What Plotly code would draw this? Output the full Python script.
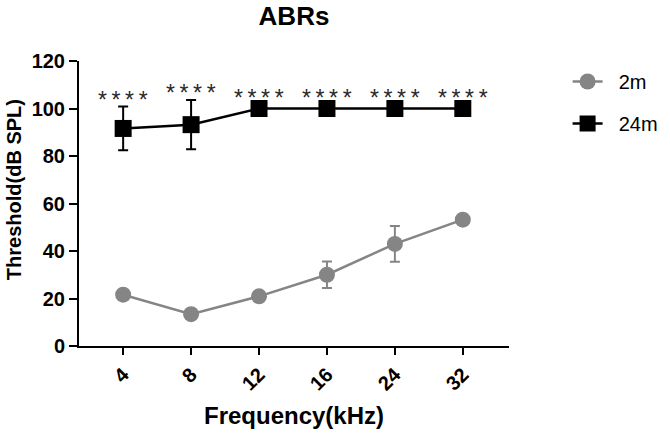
import plotly.graph_objects as go

freq_labels = ["4", "8", "12", "16", "24", "32"]
m2_mean = [21.6, 13.4, 20.9, 30.0, 43.0, 53.2]
m2_err = [0, 0, 0, 5.6, 7.5, 0]
m24_mean = [91.6, 93.2, 100, 100, 100, 100]
m24_err = [9.2, 10.4, 0, 0, 0, 0]
sig_text = ["*\u2009*\u2009*\u2009*"] * 6

x = list(range(len(freq_labels)))
GRAY = "#858585"

fig = go.Figure()
fig.add_trace(go.Scatter(
    x=x, y=m2_mean, name="\u00a0\u00a02m", mode="lines+markers",
    line=dict(color=GRAY, width=2.5),
    marker=dict(symbol="circle", size=16, color=GRAY),
    error_y=dict(type="data", array=m2_err, visible=True, color=GRAY, thickness=2, width=5),
    legendgroup="a",
))
fig.add_trace(go.Scatter(
    x=x, y=m24_mean, name="\u00a0\u00a024m", mode="lines+markers",
    line=dict(color="black", width=2.5),
    marker=dict(symbol="square", size=17, color="black"),
    error_y=dict(type="data", array=m24_err, visible=True, color="black", thickness=2, width=5),
    legendgroup="b",
))

for i, (m, e) in enumerate(zip(m24_mean, m24_err)):
    fig.add_annotation(
        x=i, y=m + e, text=sig_text[i], showarrow=False,
        yanchor="middle", yshift=(7 if e > 0 else 11),
        font=dict(family="Liberation Sans", size=23, color="#2a2a2a"),
    )

# y-axis title placed as rotated text
fig.add_annotation(
    xref="paper", yref="paper", x=(14 - 79) / 430, y=(346 - 190) / 285.3,
    text="<b>Threshold(dB SPL)</b>", textangle=-90, showarrow=False,
    xanchor="center", yanchor="middle",
    font=dict(family="Liberation Sans", size=20, color="black"),
)

axis_common = dict(
    showline=True, linewidth=2, linecolor="black", ticks="outside",
    tickwidth=2, tickcolor="black", showgrid=False, zeroline=False,
    automargin=False,
    tickfont=dict(family="Liberation Sans", size=20, color="black", weight="bold"),
)

fig.update_layout(
    width=670, height=436,
    margin=dict(l=79, r=161, t=61, b=90, autoexpand=False),
    plot_bgcolor="white", paper_bgcolor="white",
    title=dict(text="<b>ABRs</b>", x=(79 + 509) / 2 / 670, xanchor="center",
               y=1 - 16 / 436, yanchor="middle",
               font=dict(family="Liberation Sans", size=26, color="black")),
    xaxis=dict(**axis_common, ticklen=7, range=[-0.65, 5.68], tickvals=x, ticktext=freq_labels,
               tickangle=-45,
               title=dict(text="<b>Frequency(kHz)</b>", standoff=14,
                          font=dict(family="Liberation Sans", size=24, color="black"))),
    yaxis=dict(**axis_common, ticklen=8, range=[0, 120], dtick=20),
    legend=dict(xref="container", yref="container", x=567.6 / 670, y=1 - 62 / 436,
                xanchor="left", yanchor="top",
                traceorder="grouped", tracegroupgap=13,
                font=dict(family="Liberation Sans", size=20, color="black"),
                bgcolor="rgba(0,0,0,0)"),
    showlegend=True,
)

fig.write_html("out.html")
